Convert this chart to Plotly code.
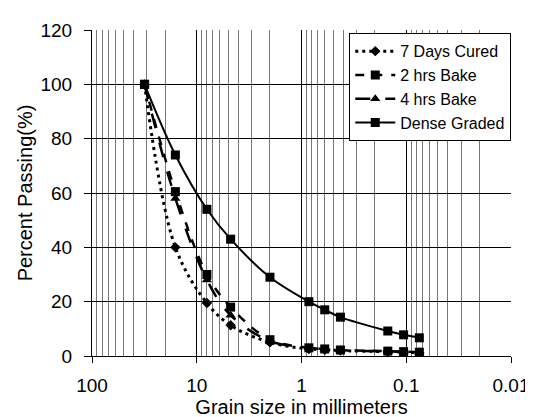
import plotly.graph_objects as go

# sieve sizes (mm) and percent passing
sieve_mm = [31.5, 16, 8, 4.75, 2.0, 0.85, 0.6, 0.425, 0.15, 0.106, 0.075]
cured_7d = [100, 40, 19.5, 11.3, 5, 2.6, 2.3, 2.0, 1.6, 1.4, 1.2]
bake_2h = [100, 60.5, 30, 18, 6, 3.0, 2.6, 2.2, 1.8, 1.6, 1.4]
bake_4h = [100, 58, 28, 15, 5.5, 3.0, 2.5, 2.1, 1.7, 1.5, 1.3]
dense_graded = [100, 74, 54, 43, 29, 20, 17, 14.3, 9.2, 7.8, 6.7]

x_ticks = [100, 10, 1, 0.1, 0.01]
x_ticktext = ["100", "10", "1", "0.1", "0.01"]
y_ticks = [0, 20, 40, 60, 80, 100, 120]

series = [
    ("7 Days Cured", cured_7d, "3px,4px", "diamond", 8, 3),
    ("2 hrs Bake", bake_2h, "dash", "square", 9, 2.5),
    ("4 hrs Bake", bake_4h, "longdash", "triangle-up", 9, 2.5),
    ("Dense Graded", dense_graded, "solid", "square", 9, 2),
]

fig = go.Figure()
for name, vals, dash, sym, msize, lw in series:
    fig.add_trace(go.Scatter(
        x=sieve_mm, y=vals, name=name, mode="lines+markers",
        line=dict(color="black", dash=dash, width=lw, shape="spline"),
        marker=dict(symbol=sym, size=msize, color="black"),
    ))

fig.update_layout(
    width=533, height=417,
    plot_bgcolor="white", paper_bgcolor="white",
    font=dict(family="Liberation Sans, Arial", color="black", size=19),
    margin=dict(l=84, r=20, t=17, b=69),
    showlegend=True,
    legend=dict(
        x=0.614, y=0.99, xanchor="left", yanchor="top",
        bgcolor="white", bordercolor="black", borderwidth=1,
        font=dict(size=16), tracegroupgap=0, itemwidth=40,
    ),
)
fig.update_xaxes(
    type="log", range=[2, -2],
    tickvals=x_ticks, ticktext=x_ticktext,
    ticks="outside", ticklen=6, tickcolor="black", ticklabelstandoff=6,
    showline=True, linecolor="black", linewidth=1,
    showgrid=True, gridcolor="black", gridwidth=1,
    minor=dict(showgrid=True, gridcolor="#777777", gridwidth=1, dtick="D1", ticks=""),
    zeroline=False,
    title=dict(text="Grain size in millimeters", font=dict(size=20), standoff=0),
)
fig.update_yaxes(
    range=[0, 120], tickvals=y_ticks,
    ticks="outside", ticklen=7, tickcolor="black", ticklabelstandoff=8,
    showline=True, linecolor="black", linewidth=1,
    showgrid=True, gridcolor="black", gridwidth=1,
    zeroline=False,
    title=dict(text="Percent Passing(%)", font=dict(size=20), standoff=2),
)

fig.write_html("out.html")
